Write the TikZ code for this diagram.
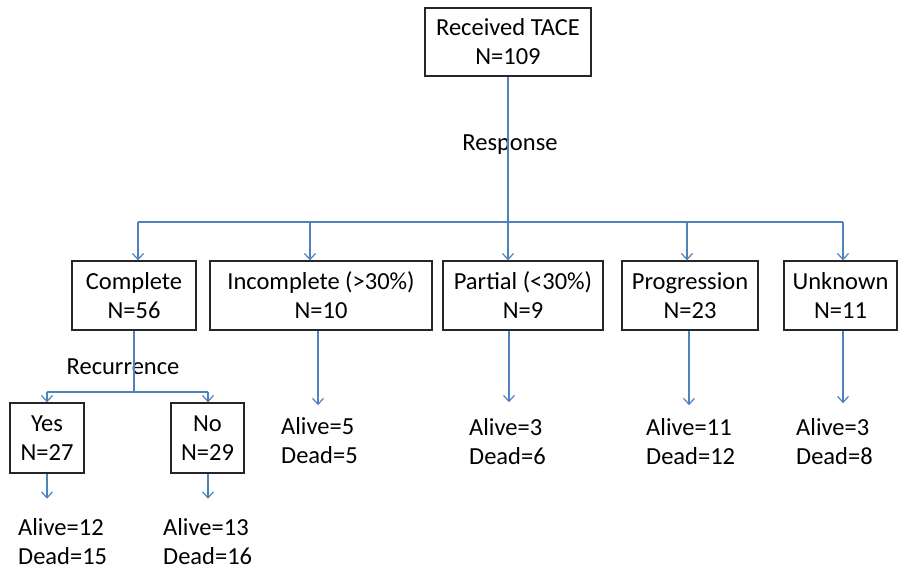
\documentclass[tikz,border=0pt]{standalone}
\usepackage{fontspec}
\setmainfont{Carlito}
\usetikzlibrary{arrows.meta}
\definecolor{FlowBlue}{RGB}{79,129,189}
\definecolor{BoxEdge}{RGB}{38,38,38}

\begin{document}
\begin{tikzpicture}[
    x=1pt, y=-1pt,
    every node/.style={font=\fontsize{24.5}{29}\selectfont, text=black},
    box/.style={draw=BoxEdge, line width=1.3pt, inner sep=0pt, minimum height=69pt,
                align=center},
    outcome/.style={anchor=west, align=left, inner sep=0pt},
    link/.style={draw=FlowBlue, line width=1.2pt},
    arr/.style={link, -{Straight Barb[length=6pt,width=11pt]}}
]
    \useasboundingbox (0,0) rectangle (898,576);

    % boxes
    \node[box, minimum width=166pt, minimum height=68pt] (tace) at (508,42) {Received TACE\\N=109};
    \node[box, minimum width=124pt] (comp) at (134,295.5) {Complete\\N=56};
    \node[box, minimum width=222pt] (inc) at (321,295.5) {Incomplete (>30\%)\\N=10};
    \node[box, minimum width=160pt] (part) at (523,295.5) {Partial (<30\%)\\N=9};
    \node[box, minimum width=136pt] (prog) at (690,295.5) {Progression\\N=23};
    \node[box, minimum width=113pt] (unk) at (840.5,295.5) {Unknown\\N=11};
    \node[box, minimum width=74pt, minimum height=70pt] (yes) at (47,438) {Yes\\N=27};
    \node[box, minimum width=73pt, minimum height=70pt] (no) at (207.5,438) {No\\N=29};

    % labels on the split lines
    \node (resp) at (510,145) {Response};
    \node (recur) at (123,367) {Recurrence};

    % outcomes
    \node[outcome] (incOut) at (281,440.5) {Alive=5\\Dead=5};
    \node[outcome] (partOut) at (469,441.5) {Alive=3\\Dead=6};
    \node[outcome] (progOut) at (646,441.5) {Alive=11\\Dead=12};
    \node[outcome] (unkOut) at (796,441.5) {Alive=3\\Dead=8};
    \node[outcome] (yesOut) at (18,542) {Alive=12\\Dead=15};
    \node[outcome] (noOut) at (163,542) {Alive=13\\Dead=16};

    % split points
    \coordinate (split) at (508,222);
    \coordinate (recSplit) at (134,392);

    % response branches
    \draw[link] (tace.south) -- (split);
    \draw[link] (138,222) -- (843,222);
    \draw[arr] (138,222) -- (comp.north -| 138,0);
    \draw[arr] (310,222) -- (inc.north -| 310,0);
    \draw[arr] (split) -- (part.north -| split);
    \draw[arr] (687,222) -- (prog.north -| 687,0);
    \draw[arr] (843,222) -- (unk.north -| 843,0);

    % recurrence branches
    \draw[link] (comp.south) -- (recSplit);
    \draw[link] (yes.north |- recSplit) -- (208,392);
    \draw[arr] (yes.north |- recSplit) -- (yes.north);
    \draw[arr] (208,392) -- (no.north -| 208,0);

    % outcome arrows
    \draw[arr, shorten >=12pt] (inc.south -| 318,0) -- (incOut.north -| 318,0);
    \draw[arr, shorten >=16pt] (part.south -| 509,0) -- (partOut.north -| 509,0);
    \draw[arr, shorten >=13pt] (prog.south -| 689,0) -- (progOut.north -| 689,0);
    \draw[arr, shorten >=15pt] (unk.south -| 843,0) -- (unkOut.north -| 843,0);
    \draw[arr, shorten >=20pt] (yes.south) -- (yesOut.north -| yes.south);
    \draw[arr, shorten >=20pt] (no.south -| 208,0) -- (noOut.north -| 208,0);
\end{tikzpicture}
\end{document}
